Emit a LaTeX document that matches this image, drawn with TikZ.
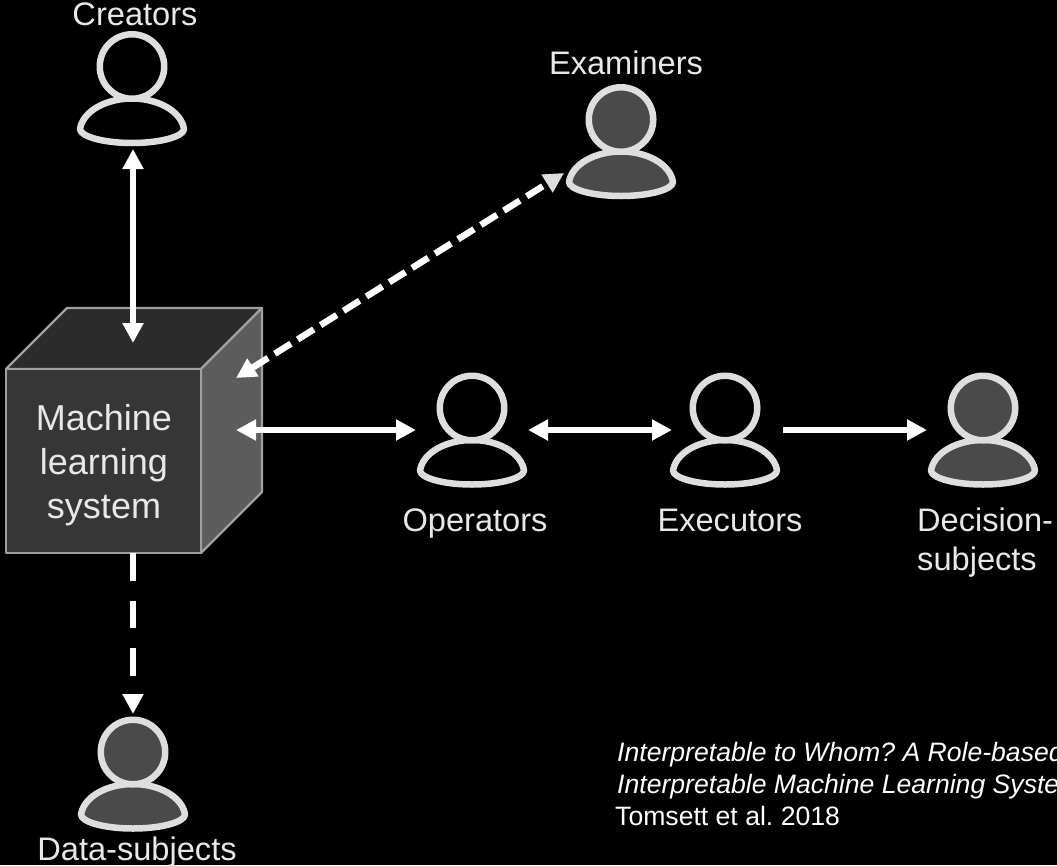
\documentclass[tikz,border=0pt]{standalone}
\usepackage{fontspec}
\setmainfont{Liberation Sans}
\frenchspacing
\usetikzlibrary{arrows.meta}
\definecolor{persline}{HTML}{DEDEDE}
\definecolor{persfill}{HTML}{4A4A4A}
\definecolor{cubeline}{HTML}{A0A0A0}
\definecolor{labelcol}{HTML}{E8E8E8}
\tikzset{
  pers/.style={draw=persline,line width=6.5pt,line join=round},
  face/.style={draw=cubeline,line width=2.2pt,line join=round},
  lab/.style={text=labelcol,font=\fontsize{32.6}{36}\selectfont,anchor=base,inner sep=0pt},
  cubetext/.style={text=labelcol,font=\fontsize{36}{44}\selectfont,anchor=base,inner sep=0pt},
  cite/.style={text=white,font=\fontsize{26.6}{32}\selectfont,anchor=base west,inner sep=0pt},
  link/.style={draw=white,line width=6.5pt},
  both/.style={link,{Triangle[width=20pt,length=20pt]}-{Triangle[width=20pt,length=20pt]}},
  bothgrey/.style={link,{Triangle[width=20pt,length=20pt]}-{Triangle[width=20pt,length=20pt,color=persline]}},
  one/.style={link,-{Triangle[width=20pt,length=20pt]}},
  dashes/.style={dash pattern=on 27.5pt off 20pt},
  fine dashes/.style={dash pattern=on 19pt off 8pt},
}
\newcommand{\person}[4]{% name, x, y, fill
  \begin{scope}[shift={(#2,#3)}]
    \path[pers,fill=#4] (-52,62.5) .. controls (-49,44) and (-25,32) .. (0,32)
      .. controls (25,32) and (49,44) .. (52,62.5)
      .. controls (52,69.5) and (30,76.5) .. (0,76.5)
      .. controls (-30,76.5) and (-52,69.5) .. (-52,62.5) -- cycle;
    \node[pers,fill=#4,circle,minimum size=64.5pt,inner sep=0pt,outer sep=0pt] (#1) at (0,0) {};
  \end{scope}}
\begin{document}
\begin{tikzpicture}[x=1pt,y=-1pt]
\useasboundingbox (0,0) rectangle (1057,865);
\clip (0,0) rectangle (1057,865);
\fill[black] (0,0) rectangle (1057,865);
% cube
\path[face,fill=black!83] (6,369) -- (67,308) -- (262,308) -- (201,369) -- cycle;
\path[face,fill=black!64] (201,369) -- (262,308) -- (262,492) -- (201,553) -- cycle;
\node[face,fill=black!79,minimum width=195pt,minimum height=184pt,inner sep=0pt,outer sep=0pt,anchor=north west] (cube) at (6,369) {};
\node[cubetext] (l1) at (104,430) {Machine};
\node[cubetext] (l2) at (104,474) {learning};
\node[cubetext] (l3) at (104,518) {system};
% persons
\person{creators}{132}{66.5}{black}
\person{examiners}{621}{119.5}{persfill}
\person{operators}{472}{408}{black}
\person{executors}{725}{408}{black}
\person{decision}{983}{408}{persfill}
\person{datasub}{133}{752}{persfill}
% labels
\node[lab] (tc) at (135,25) {Creators};
\node[lab] (te) at (626,74) {Examiners};
\node[lab] (to) at (475,531) {Operators};
\node[lab] (tx) at (730,531) {Executors};
\node[lab,anchor=base west] (td) at (917,531) {Decision-};
\node[lab,anchor=base west] (ts) at (917,570) {subjects};
\node[lab] (tt) at (137,860) {Data-subjects};
\node[cite,font=\fontsize{26.6}{32}\selectfont\itshape] (c1) at (617,761) {Interpretable to Whom? A Role-based};
\node[cite,font=\fontsize{26.6}{32}\selectfont\itshape] (c2) at (617,793) {Interpretable Machine Learning Systems};
\node[cite] (c3) at (615,825) {Tomsett et al. 2018};
% connector ends
\coordinate (a1) at (133,149);
\coordinate (a2) at (133,343);
\coordinate (b1) at (564,173);
\coordinate (b2) at (236,378);
\coordinate (c0) at (236,430);
\coordinate (d1) at (416,430);
\coordinate (d2) at (528,430);
\coordinate (d3) at (672,430);
\coordinate (d4) at (783,430);
\coordinate (d5) at (927,430);
\coordinate (e1) at (133,553);
\coordinate (e2) at (133,714);
% connectors
\draw[both] (a1) -- (a2);
\draw[bothgrey,fine dashes] (b2) -- (b1);
\draw[both] (c0) -- (d1);
\draw[both] (d2) -- (d3);
\draw[one] (d4) -- (d5);
\draw[one,dashes] (e1) -- (e2);
\end{tikzpicture}
\end{document}
